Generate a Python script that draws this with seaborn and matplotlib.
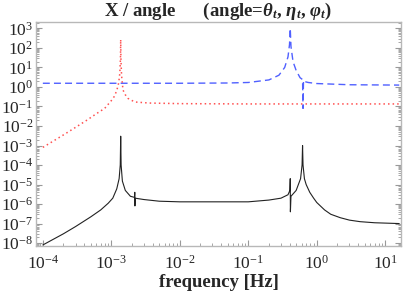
import matplotlib
matplotlib.use("Agg")
import matplotlib.pyplot as plt
import matplotlib.ticker as mticker
import pandas as pd
import seaborn as sns

sns.set_style("white")
plt.rcParams["font.family"] = ["Liberation Serif", "DejaVu Serif"]
plt.rcParams["mathtext.fontset"] = "custom"
plt.rcParams["mathtext.rm"] = "Liberation Serif"
plt.rcParams["mathtext.it"] = "Liberation Serif:italic:bold"
plt.rcParams["mathtext.bf"] = "Liberation Serif:bold"

# X / theta_t  (red dotted)
red_freq = [1e-4, 2e-4, 3e-4, 4.5e-4, 6e-4, 8e-4, 1.0e-3, 1.1e-3, 1.2e-3, 1.28e-3,
            1.33e-3, 1.36e-3, 1.37e-3, 1.38e-3, 1.41e-3, 1.48e-3, 1.6e-3, 1.75e-3,
            2.2e-3, 3.6e-3, 1e-2, 1e-1, 1.0, 16.0]
red_vals = [8e-4, 3.5e-3, 8.5e-3, 2.1e-2, 4.2e-2, 8e-2, 0.2, 0.32, 0.65, 1.6,
            5.0, 30.0, 270.0, 30.0, 4.0, 0.7, 0.4, 0.26,
            0.17, 0.15, 0.14, 0.135, 0.135, 0.135]

# X / eta_t  (blue dashed)
blue_freq = [1e-4, 1e-3, 1e-2, 5e-2, 0.1, 0.2, 0.28, 0.34, 0.38, 0.40, 0.41,
             0.42, 0.45, 0.5, 0.57, 0.62, 0.63, 0.64, 0.66, 0.75, 1.0, 3.0, 16.0]
blue_vals = [1.55, 1.55, 1.55, 1.6, 1.7, 2.3, 4.0, 10.0, 35.0, 150.0, 1000.0,
             120.0, 20.0, 7.0, 3.0, 2.4, 0.08, 2.2, 1.9, 1.7, 1.5, 1.3, 1.25]

# X / varphi_t  (black solid)
black_freq = [1e-4, 2e-4, 3e-4, 5e-4, 7e-4, 9e-4, 1.05e-3, 1.2e-3, 1.3e-3, 1.35e-3,
              1.37e-3, 1.39e-3, 1.45e-3, 1.6e-3, 1.9e-3, 2.18e-3, 2.2e-3, 2.21e-3,
              2.23e-3, 3e-3, 5e-3, 1e-2, 0.1, 0.2, 0.3, 0.38, 0.405, 0.41, 0.412,
              0.42, 0.5, 0.58, 0.61, 0.62, 0.63, 0.66, 0.7, 0.79, 0.9, 1.0, 1.3,
              1.6, 2.2, 3.0, 4.3, 7.0, 16.0]
black_vals = [8e-9, 3e-8, 7e-8, 2.2e-7, 5e-7, 1.1e-6, 2e-6, 6e-6, 2e-5, 1e-4,
              3e-3, 1e-4, 1.5e-5, 5e-6, 2.5e-6, 2.2e-6, 4e-6, 8e-7,
              2e-6, 1.7e-6, 1.4e-6, 1.3e-6, 1.3e-6, 1.6e-6, 2e-6, 3e-6, 5e-6, 2e-5, 4e-7,
              2.5e-6, 5e-6, 2e-5, 1e-4, 1e-3, 1e-4, 2e-5, 1e-5, 4e-6, 2e-6, 1.2e-6, 5e-7,
              3e-7, 2e-7, 1.5e-7, 1.25e-7, 1.1e-7, 1e-7]

red = pd.DataFrame({"f": red_freq, "v": red_vals})
blue = pd.DataFrame({"f": blue_freq, "v": blue_vals})
black = pd.DataFrame({"f": black_freq, "v": black_vals})

fig = plt.figure(figsize=(4.07, 3.02), dpi=100)
ax = fig.add_axes([36 / 407, 1 - 246 / 302, 365 / 407, 224 / 302])

sns.lineplot(data=blue, x="f", y="v", ax=ax, color="#5060ff", linestyle=(0, (5, 3)),
             linewidth=1.0, estimator=None)
sns.lineplot(data=red, x="f", y="v", ax=ax, color="#ff5050", linestyle=(0, (1, 2)),
             linewidth=1.1, estimator=None)
sns.lineplot(data=black, x="f", y="v", ax=ax, color="#222222", linewidth=0.8,
             estimator=None)

ax.set_xscale("log")
ax.set_yscale("log")
ax.set_xlim(10 ** -4.10, 10 ** 1.23)
ax.set_ylim(10 ** -8.15, 10 ** 3.33)

ax.xaxis.set_major_locator(mticker.LogLocator(base=10, numticks=20))
ax.yaxis.set_major_locator(mticker.LogLocator(base=10, numticks=20))
ax.xaxis.set_minor_locator(mticker.LogLocator(base=10, subs=range(2, 10), numticks=40))
ax.yaxis.set_minor_locator(mticker.LogLocator(base=10, subs=range(2, 10), numticks=40))
ax.xaxis.set_minor_formatter(mticker.NullFormatter())
ax.yaxis.set_minor_formatter(mticker.NullFormatter())

for s in ax.spines.values():
    s.set_color("#b8b8b8")
    s.set_linewidth(1.0)
ax.tick_params(which="both", direction="in", color="#999999", labelsize=12.5,
               left=True, right=True, bottom=True, top=False)
ax.tick_params(axis="y", pad=2)
ax.tick_params(axis="x", pad=6)
ax.tick_params(which="major", length=4, width=0.8)
ax.tick_params(which="minor", length=2, width=0.6)
ax.grid(False)

ax.set_xlabel("frequency [Hz]", fontsize=13.5, fontweight="bold", labelpad=1)
ax.set_ylabel("")
ax.set_title(r"X / angle      (angle=$\theta_t$, $\eta_t$, $\varphi_t$)",
             fontsize=13.5, fontweight="bold", pad=2)

fig.savefig("out.png", dpi=100)
